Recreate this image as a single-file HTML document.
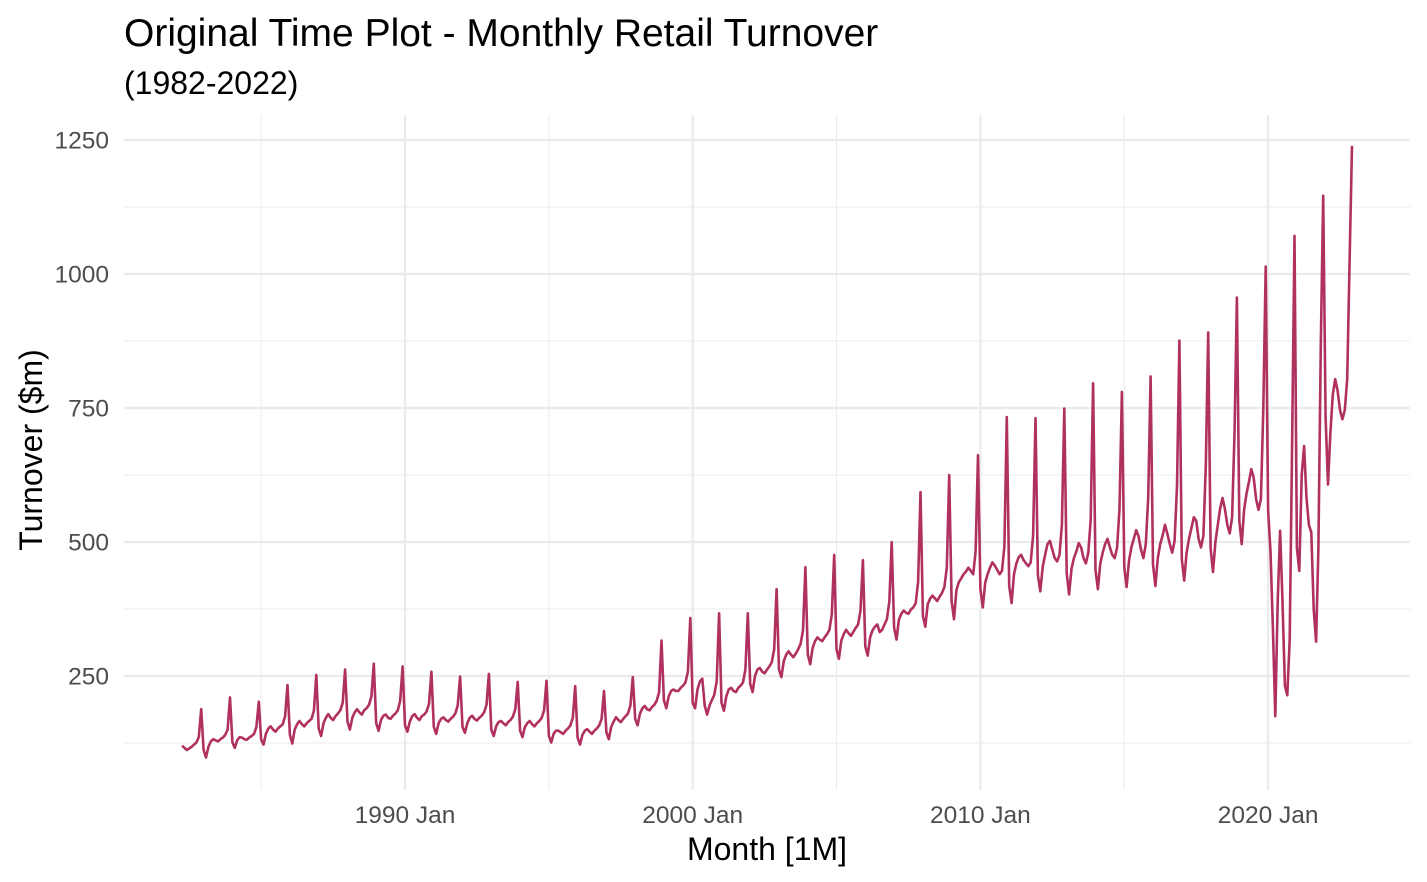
<!DOCTYPE html>
<html><head><meta charset="utf-8">
<style>
html,body{margin:0;padding:0;background:#fff;}
svg{display:block;font-family:"Liberation Sans",Arial,sans-serif;}
</style></head>
<body>
<svg id="chart" width="1427" height="882" viewBox="0 0 1427 882" xmlns="http://www.w3.org/2000/svg">
<rect width="1427" height="882" fill="#ffffff"/>
<text x="124" y="46" font-size="39" fill="#000">Original Time Plot - Monthly Retail Turnover</text>
<text x="124" y="94" font-size="32" fill="#000">(1982-2022)</text>
<g id="grid"></g>
<g id="yticks"></g>
<g id="xticks"></g>
<g id="series"></g>
<text x="767" y="860" font-size="32" text-anchor="middle" fill="#000">Month [1M]</text>
<text transform="translate(42,450) rotate(-90)" font-size="32" text-anchor="middle" fill="#000">Turnover ($m)</text>
</svg>
<script>
const startYear = 1982;
const startMonth = 4;
const yTicks = [250, 500, 750, 1000, 1250];
const yMinorTicks = [125, 375, 625, 875, 1125];
const xTickYears = [1990, 2000, 2010, 2020];
const xTickLabels = ["1990 Jan", "2000 Jan", "2010 Jan", "2020 Jan"];
const xMinorYears = [1985, 1995, 2005, 2015];
const turnover = [
120,116,112,115,118,122,126,136,188,
112,98,118,128,132,130,128,132,135,140,150,210,
126,116,130,136,135,132,131,135,138,142,155,202,
132,122,142,152,156,150,146,152,156,160,175,233,
140,124,150,160,166,160,156,162,166,170,185,252,
152,138,162,172,179,172,168,175,180,186,200,262,
165,150,172,182,188,182,178,186,190,196,212,273,
162,148,168,176,178,172,170,176,180,186,204,268,
158,146,165,175,179,172,168,175,178,184,198,258,
155,142,162,170,173,168,165,170,174,180,195,249,
155,144,162,172,176,170,167,172,176,182,196,254,
150,138,156,164,166,162,158,164,168,174,188,239,
148,136,155,162,166,160,156,162,166,172,186,241,
138,126,142,148,148,145,142,148,152,158,172,231,
135,122,140,148,151,146,142,148,152,158,170,222,
145,132,155,165,173,168,164,170,175,180,195,248,
170,158,180,190,194,188,186,192,196,204,220,316,
205,190,212,222,225,222,222,228,232,238,258,358,
200,190,225,240,245,195,178,195,205,215,240,367,
200,185,212,225,228,222,220,228,232,238,262,367,
235,220,250,262,265,258,255,262,268,276,300,412,
262,248,278,290,296,290,285,292,300,310,335,453,
290,272,302,315,322,318,315,322,328,336,365,476,
300,282,316,328,336,330,325,332,340,346,372,466,
305,288,322,335,342,346,332,336,346,356,388,500,
340,318,355,366,372,368,366,374,378,386,425,593,
362,342,384,394,400,395,390,398,405,416,452,625,
390,356,410,425,432,440,445,452,446,440,482,662,
412,378,424,440,452,462,456,448,440,446,492,733,
418,386,440,460,472,476,466,460,455,462,512,731,
438,408,454,476,496,502,486,470,464,476,532,749,
442,402,450,470,482,498,490,470,460,480,542,796,
448,412,460,480,496,506,490,476,470,490,562,780,
452,416,465,490,506,522,510,486,470,496,582,809,
458,418,470,496,512,532,515,496,480,502,604,876,
468,428,480,506,526,546,540,506,490,512,642,891,
488,444,500,532,562,582,562,532,516,546,702,956,
540,496,560,590,612,636,620,580,560,580,748,1014,
560,482,339,175,389,521,389,232,214,318,682,1071,
489,446,625,679,582,532,518,375,314,489,868,1146,
732,607,704,775,804,782,746,729,746,804,1025,1239
];

const svgNS = "http://www.w3.org/2000/svg";
const L = 124, R = 1410, T = 115, B = 790;
function xScale(t){ return 405 + (t - 1990) * 28.77; }
function yScale(v){ return 676 - (v - 250) * 0.536; }
function mk(tag, attrs, parent){
  const e = document.createElementNS(svgNS, tag);
  for (const k in attrs) e.setAttribute(k, attrs[k]);
  parent.appendChild(e);
  return e;
}
const grid = document.getElementById('grid');
yMinorTicks.forEach(v => {
  const l = mk('line', {x1:L, x2:R, y1:yScale(v), y2:yScale(v), stroke:'#ebebeb', 'stroke-width':1}, grid);
  
  
});
xMinorYears.forEach(yr => {
  const l = mk('line', {x1:xScale(yr), x2:xScale(yr), y1:T, y2:B, stroke:'#ebebeb', 'stroke-width':1}, grid);
  
  
});
const yt = document.getElementById('yticks');
yTicks.forEach(v => {
  const l = mk('line', {x1:L, x2:R, y1:yScale(v), y2:yScale(v), stroke:'#ebebeb', 'stroke-width':2.2}, grid);
  
  
  const t = mk('text', {x:109, y:yScale(v)+8.5, 'font-size':24.5, 'text-anchor':'end', fill:'#4d4d4d'}, yt);
  
  
  t.textContent = v;
});
const xt = document.getElementById('xticks');
xTickYears.forEach((yr, i) => {
  const l = mk('line', {x1:xScale(yr), x2:xScale(yr), y1:T, y2:B, stroke:'#ebebeb', 'stroke-width':2.2}, grid);
  
  
  const t = mk('text', {x:xScale(yr), y:823, 'font-size':24.5, 'text-anchor':'middle', fill:'#4d4d4d'}, xt);
  
  
  t.textContent = xTickLabels[i];
});
const pts = turnover.map((v, i) => {
  const m = startMonth - 1 + i;
  const t = startYear + m / 12;
  return xScale(t).toFixed(1) + ',' + yScale(v).toFixed(1);
});
const line = mk('polyline', {points: pts.join(' '), fill:'none', stroke:'#b03060', 'stroke-width':2.6, 'stroke-linejoin':'round'}, document.getElementById('series'));


</script>
</body></html>
